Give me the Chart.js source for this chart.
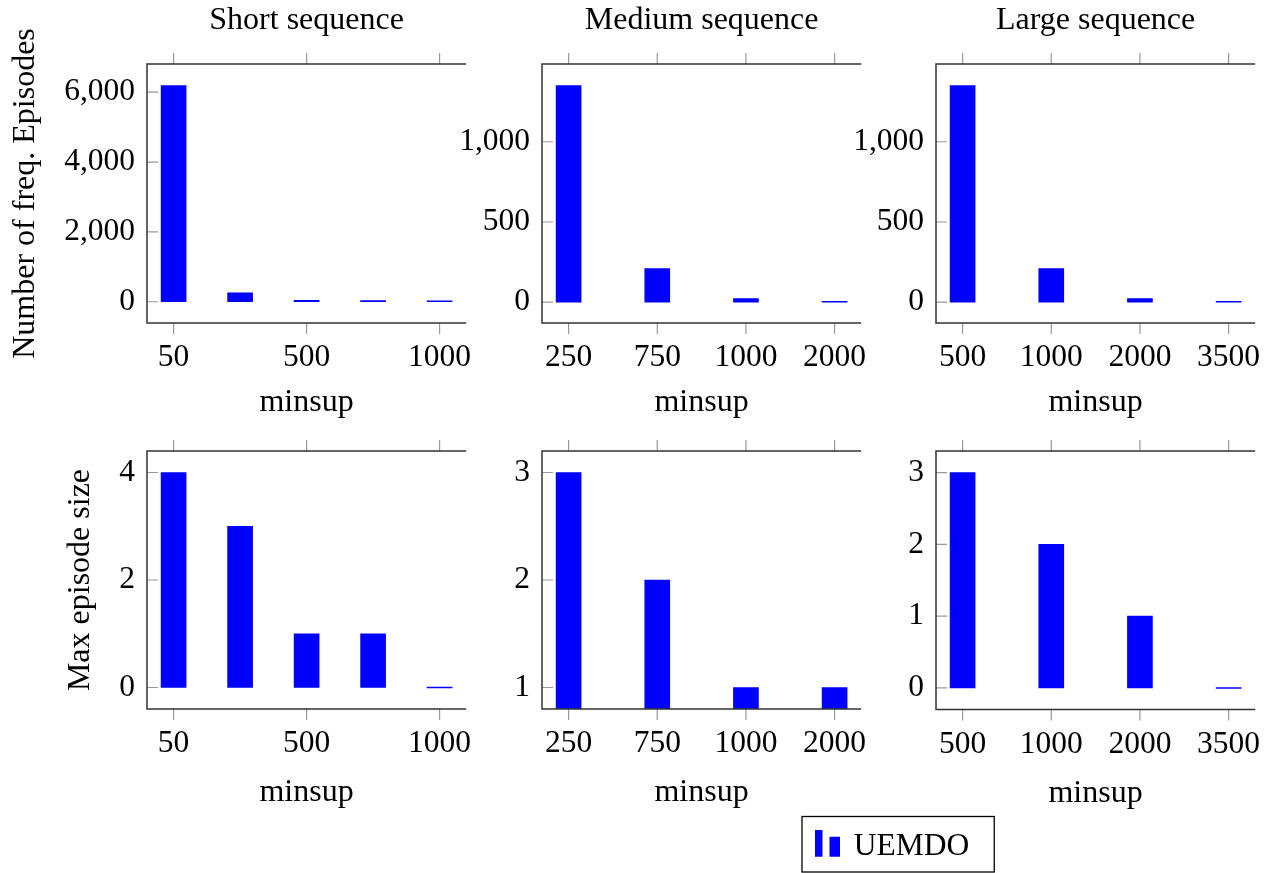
<!DOCTYPE html>
<html>
<head>
<meta charset="utf-8">
<script src="https://cdn.jsdelivr.net/npm/chart.js@4.4.1/dist/chart.umd.min.js"></script>
<style>
  html, body { margin: 0; padding: 0; background: #fff; }
  body { width: 1279px; height: 873px; position: relative; overflow: hidden; }
  canvas { position: absolute; }
</style>
</head>
<body>
<canvas id="shortFreq" width="482" height="422" style="left:7px;top:0px"></canvas>
<canvas id="mediumFreq" width="434" height="422" style="left:450px;top:0px"></canvas>
<canvas id="largeFreq" width="433" height="422" style="left:845px;top:0px"></canvas>
<canvas id="shortSize" width="427" height="392" style="left:62px;top:420px"></canvas>
<canvas id="mediumSize" width="434" height="392" style="left:450px;top:420px"></canvas>
<canvas id="largeSize" width="488" height="453" style="left:790px;top:420px"></canvas>
<script>
// minsup categories per sequence length
const shortMinsup = ['50', '250', '500', '750', '1000'];
const shortShown = [0, 2, 4];
const mediumMinsup = ['250', '750', '1000', '2000'];
const largeMinsup = ['500', '1000', '2000', '3500'];

// number of frequent episodes
const shortEpisodes = [6190, 255, 40, 35, 10];
const mediumEpisodes = [1350, 210, 22, 5];
const largeEpisodes = [1350, 210, 22, 5];

// max episode size
const shortMaxSize = [4, 3, 1, 1, 0];
const mediumMaxSize = [3, 2, 1, 1];
const largeMaxSize = [3, 2, 1, 0];

// y tick labels
const shortEpisodeTicks = [0, 2000, 4000, 6000];
const episodeTicks = [0, 500, 1000];
const shortSizeTicks = [0, 2, 4];
const mediumSizeTicks = [1, 2, 3];
const largeSizeTicks = [0, 1, 2, 3];

const FONT = "'Liberation Serif', 'Times New Roman', serif";
Chart.defaults.font.family = FONT;
Chart.defaults.font.size = 31.5;
Chart.defaults.font.lineHeight = 1.2;
Chart.defaults.color = '#000';
Chart.defaults.animation = false;

// pgfplots style frame: top/left/bottom lines, outside x ticks, inside y ticks
const frame = {
    id: 'frame',
    afterDraw(chart) {
        const { ctx, chartArea: a, scales } = chart;
        ctx.save();
        ctx.strokeStyle = '#999';
        ctx.lineWidth = 1.2;
        ctx.beginPath();
        scales.x.ticks.forEach(t => {
            const px = scales.x.getPixelForValue(t.value);
            ctx.moveTo(px, a.top - 11);
            ctx.lineTo(px, a.top);
            ctx.moveTo(px, a.bottom);
            ctx.lineTo(px, a.bottom + 11);
        });
        scales.y.ticks.forEach(t => {
            const py = scales.y.getPixelForValue(t.value);
            ctx.moveTo(a.left, py);
            ctx.lineTo(a.left + 11, py);
        });
        ctx.stroke();
        ctx.strokeStyle = '#333';
        ctx.lineWidth = 1.5;
        ctx.beginPath();
        ctx.moveTo(a.right, a.top);
        ctx.lineTo(a.left, a.top);
        ctx.lineTo(a.left, a.bottom);
        ctx.lineTo(a.right, a.bottom);
        ctx.stroke();
        ctx.restore();
    }
};

// rotated y label (Chart.js squeezes long axis titles to the axis height)
const sideLabel = {
    id: 'sideLabel',
    afterDraw(chart, args, opts) {
        if (!opts.text) return;
        const { ctx, chartArea: a } = chart;
        ctx.save();
        ctx.translate(chart.scales.y.left + 19, (a.top + a.bottom) / 2);
        ctx.rotate(-Math.PI / 2);
        ctx.font = '32px ' + FONT;
        ctx.fillStyle = '#000';
        ctx.textAlign = 'center';
        ctx.textBaseline = 'middle';
        ctx.fillText(opts.text, 0, 0);
        ctx.restore();
    }
};

// border around the legend
const legendBox = {
    id: 'legendBox',
    afterDraw(chart) {
        if (!chart.options.plugins.legend.display) return;
        const hb = chart.legend.legendHitBoxes[0];
        if (!hb) return;
        const { ctx } = chart;
        ctx.save();
        ctx.strokeStyle = '#000';
        ctx.lineWidth = 1.3;
        ctx.strokeRect(hb.left - 14, hb.top - 14, hb.width + 39, hb.height + 24);
        ctx.restore();
    }
};

// two-bar legend symbol
const legendSymbol = document.createElement('canvas');
legendSymbol.width = 25;
legendSymbol.height = 33;
const sctx = legendSymbol.getContext('2d');
sctx.fillStyle = '#0000ff';
sctx.fillRect(0, 0, 8, 27);
sctx.fillRect(15, 7, 10, 20);

function makeChart(id, cfg) {
    const n = cfg.labels.length;
    const lo = Math.min(...cfg.values), hi = Math.max(...cfg.values);
    const pad = (hi - lo) * 0.1;
    const shown = cfg.shown || cfg.labels.map((_, i) => i);
    new Chart(document.getElementById(id), {
        type: 'bar',
        data: {
            datasets: [{
                label: 'UEMDO',
                data: cfg.values.map((v, i) => ({ x: i, y: v })),
                backgroundColor: '#0000ff',
                borderWidth: 0,
                barThickness: 25,
                minBarLength: 1
            }]
        },
        options: {
            responsive: false,
            layout: { padding: cfg.padding },
            scales: {
                x: {
                    type: 'linear',
                    offset: false,
                    min: -0.1 * (n - 1),
                    max: 1.1 * (n - 1),
                    afterBuildTicks: s => { s.ticks = shown.map(v => ({ value: v })); },
                    afterFit: s => { s.height = cfg.xHeight; },
                    ticks: { padding: 16, autoSkip: false, maxRotation: 0, callback: v => cfg.labels[v] },
                    grid: { display: false, drawTicks: false, offset: false },
                    border: { display: false },
                    title: {
                        display: true, text: 'minsup', color: '#000',
                        font: { size: 32 },
                        padding: { top: 0, bottom: cfg.xTitlePad || 0 }
                    }
                },
                y: {
                    min: lo - pad,
                    max: hi + pad,
                    afterBuildTicks: s => { s.ticks = cfg.yTicks.map(v => ({ value: v })); },
                    afterFit: s => { s.width = cfg.yWidth; },
                    ticks: { padding: 12, callback: v => v.toLocaleString('en-US') },
                    grid: { display: false, drawTicks: false },
                    border: { display: false }
                }
            },
            plugins: {
                title: {
                    display: !!cfg.title,
                    text: cfg.title,
                    fullSize: false,
                    color: '#000',
                    font: { size: 32, weight: 'normal' },
                    padding: { top: 1, bottom: 24.6 }
                },
                legend: {
                    display: !!cfg.legend,
                    position: 'bottom',
                    align: 'start',
                    labels: {
                        usePointStyle: true,
                        pointStyle: legendSymbol,
                        pointStyleWidth: 22,
                        padding: 10,
                        color: '#000'
                    }
                },
                tooltip: { enabled: false },
                sideLabel: { text: cfg.yLabel }
            }
        },
        plugins: [frame, sideLabel, legendBox]
    });
}

makeChart('shortFreq', {
    labels: shortMinsup, shown: shortShown, values: shortEpisodes, yTicks: shortEpisodeTicks,
    title: 'Short sequence', yLabel: 'Number of freq. Episodes',
    yWidth: 140, xHeight: 99, padding: { right: 10 }
});
makeChart('mediumFreq', {
    labels: mediumMinsup, values: mediumEpisodes, yTicks: episodeTicks,
    title: 'Medium sequence', yWidth: 92, xHeight: 99, padding: { right: 10 }
});
makeChart('largeFreq', {
    labels: largeMinsup, values: largeEpisodes, yTicks: episodeTicks,
    title: 'Large sequence', yWidth: 91, xHeight: 99, padding: { right: 10 }
});
makeChart('shortSize', {
    labels: shortMinsup, shown: shortShown, values: shortMaxSize, yTicks: shortSizeTicks,
    yLabel: 'Max episode size', yWidth: 85, xHeight: 103, padding: { top: 31, right: 10 }
});
makeChart('mediumSize', {
    labels: mediumMinsup, values: mediumMaxSize, yTicks: mediumSizeTicks,
    yWidth: 92, xHeight: 103, padding: { top: 31, right: 10 }
});
makeChart('largeSize', {
    labels: largeMinsup, values: largeMaxSize, yTicks: largeSizeTicks,
    yWidth: 130, xHeight: 111, xTitlePad: 8, legend: true, padding: { top: 31, left: 16, right: 10, bottom: 1 }
});
</script>
</body>
</html>
